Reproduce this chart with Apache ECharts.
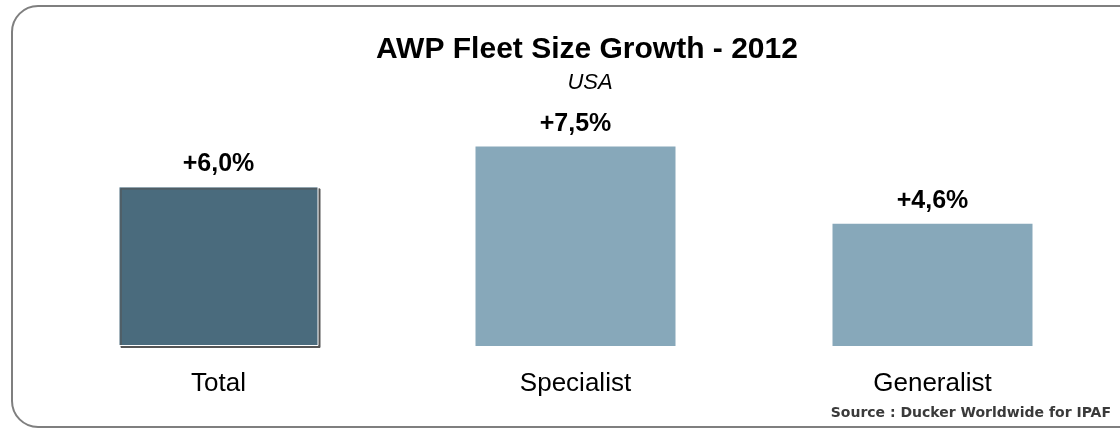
<!DOCTYPE html>
<html>
<head>
<meta charset="utf-8">
<script src="https://cdn.jsdelivr.net/npm/echarts@6/dist/echarts.min.js"></script>
<style>
  html, body { margin: 0; padding: 0; background: #fff; }
  #chart { width: 1120px; height: 429px; }
</style>
</head>
<body>
<div id="chart"></div>
<script>
const categories = ['Total', 'Specialist', 'Generalist']
const growth = [6.0, 7.5, 4.6]
const barColors = ['#4a6b7d', '#87a8ba', '#87a8ba']

const chart = echarts.init(document.getElementById('chart'))

const fmt = v => '+' + v.toFixed(1).replace('.', ',') + '%'

chart.setOption({
  animation: false,
  textStyle: { fontFamily: '"Liberation Sans", Arial, sans-serif' },
  title: [
    {
      text: 'AWP Fleet Size Growth - 2012',
      left: 582,
      top: 30,
      textAlign: 'center',
      textStyle: { fontSize: 30, fontWeight: 'bold', color: '#000' },
    },
    {
      text: 'USA',
      left: 585,
      top: 67,
      textAlign: 'center',
      textStyle: { fontSize: 22, fontStyle: 'italic', fontWeight: 'normal', color: '#000' },
    },
  ],
  graphic: [
    {
      type: 'rect',
      shape: { x: 12, y: 6, width: 1140, height: 421, r: 26 },
      style: { fill: 'none', stroke: '#7f7f7f', lineWidth: 2 },
      silent: true,
    },
    {
      type: 'text',
      right: 9,
      top: 406,
      style: {
        text: 'Source : Ducker Worldwide for IPAF',
        font: 'bold 14px "DejaVu Sans", sans-serif',
        fill: '#3a3a3a',
      },
    },
  ],
  grid: { left: 40, right: 9, top: 80, bottom: 83 },
  xAxis: {
    type: 'category',
    data: categories,
    axisLine: { show: false },
    axisTick: { show: false },
    axisLabel: { fontSize: 26, color: '#000', margin: 25 },
  },
  yAxis: {
    type: 'value',
    min: 0,
    max: 10,
    show: false,
    splitLine: { show: false },
  },
  series: [
    {
      type: 'bar',
      barWidth: 200,
      data: growth.map((v, i) => ({
        value: v,
        itemStyle: i === 0
          ? { color: barColors[i], borderColor: '#fff', borderWidth: 1, shadowColor: '#555', shadowOffsetX: 2, shadowOffsetY: 2, shadowBlur: 0 }
          : { color: barColors[i] },
      })),
      label: {
        show: true,
        position: 'top',
        distance: 10,
        formatter: p => fmt(p.value),
        fontSize: 25,
        fontWeight: 'bold',
        color: '#000',
      },
    },
  ],
})
</script>
</body>
</html>
